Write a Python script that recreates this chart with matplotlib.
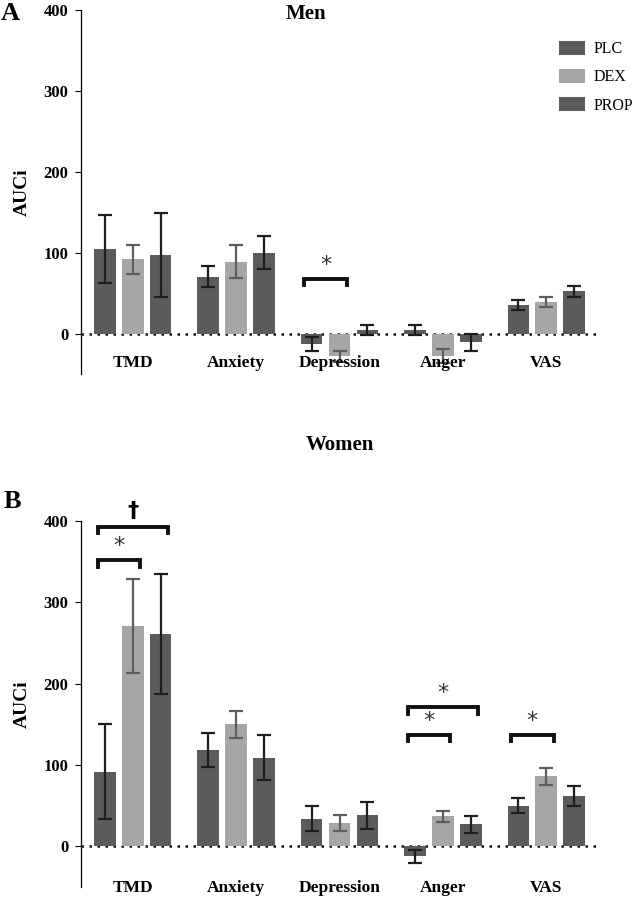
import numpy as np
import matplotlib.pyplot as plt

plt.rcParams['font.family'] = ['Liberation Serif', 'DejaVu Serif']

categories = ['TMD', 'Anxiety', 'Depression', 'Anger', 'VAS']
groups = ['PLC', 'DEX', 'PROP']

# Men
men_plc = [105, 70, -13, 4, 35]
men_plc_err = [42, 13, 9, 6, 6]
men_dex = [92, 89, -28, -28, 39]
men_dex_err = [18, 20, 7, 9, 6]
men_prop = [97, 100, 4, -11, 52]
men_prop_err = [52, 20, 6, 11, 7]

# Women
women_plc = [92, 118, 34, -12, 50]
women_plc_err = [58, 21, 15, 8, 9]
women_dex = [271, 150, 29, 37, 86]
women_dex_err = [58, 17, 10, 7, 10]
women_prop = [261, 109, 38, 27, 62]
women_prop_err = [74, 28, 17, 10, 12]

# significance brackets: (category, bar a, bar b, bracket height, label)
men_sig = [(2, 0, 1, 68, '*')]
women_sig = [(0, 0, 1, 352, '*'), (0, 0, 2, 393, '\u2020'),
             (3, 0, 1, 137, '*'), (3, 0, 2, 171, '*'),
             (4, 0, 1, 137, '*')]

dark = '#5b5b5b'
light = '#a6a6a6'
bar_colors = [dark, light, dark]
err_colors = ['#1e1e1e', '#5e5e5e', '#1e1e1e']
offset = 0.27
width = 0.21

fig = plt.figure(figsize=(6.33, 8.98), dpi=100)
ax1 = fig.add_axes([81/633, 1-374/898, 517/633, 364/898])
ax2 = fig.add_axes([81/633, 1-887/898, 517/633, 366/898])


def draw(ax, series, errs, sig, label_y):
    x = np.arange(len(categories))
    ax.axhline(0, color='#111111', lw=1.8, ls=(0, (1, 2.2)), zorder=1)
    for k in range(3):
        xs = x + (k - 1) * offset
        ax.bar(xs, series[k], width, color=bar_colors[k], zorder=2,
               label=groups[k])
        ax.errorbar(xs, series[k], yerr=errs[k], fmt='none',
                    ecolor=err_colors[k], elinewidth=1.6, capsize=5,
                    capthick=1.6, zorder=3)
    for c, a, b, h, lab in sig:
        x0 = c + (a - 1) * offset - 0.07
        x1 = c + (b - 1) * offset + 0.07
        d = 8
        ax.plot([x0, x0, x1, x1], [h - d, h, h, h - d], color='#111111',
                lw=2.8, solid_joinstyle='miter', zorder=4)
        if lab == '*':
            ax.text((x0 + x1) / 2, h + 5, lab, ha='center', va='bottom',
                    fontsize=16, family='DejaVu Sans', color='#333333')
        else:
            ax.text((x0 + x1) / 2, h + 7, lab, ha='center', va='bottom',
                    fontsize=16, fontweight='bold', family='DejaVu Sans')
    for i, cat in enumerate(categories):
        ax.text(i, label_y, cat, ha='center', va='center', fontsize=12.5,
                fontweight='bold', clip_on=False)
    ax.set_xlim(-0.5, 4.5)
    ax.set_ylim(-50, 400)
    ax.set_yticks([0, 100, 200, 300, 400])
    ax.tick_params(axis='y', length=4, width=0.8, labelsize=12, pad=5)
    for t in ax.get_yticklabels():
        t.set_fontweight('bold')
    ax.set_xticks([])
    for s in ['top', 'right', 'bottom']:
        ax.spines[s].set_visible(False)
    ax.spines['left'].set_linewidth(0.9)
    ax.set_ylabel('AUCi', fontsize=14, fontweight='bold', labelpad=9)


draw(ax1, [men_plc, men_dex, men_prop], [men_plc_err, men_dex_err, men_prop_err],
     men_sig, -36)
draw(ax2, [women_plc, women_dex, women_prop],
     [women_plc_err, women_dex_err, women_prop_err], women_sig, -51)

ax1.legend(loc='upper right', bbox_to_anchor=(1.096, 0.955), frameon=False,
           fontsize=11.5, handlelength=1.6, handleheight=1.0,
           labelspacing=0.72, handletextpad=0.55)

fig.text(306/633, 1-14/898, 'Men', ha='center', va='center', fontsize=15,
         fontweight='bold')
fig.text(340/633, 1-445/898, 'Women', ha='center', va='center', fontsize=15,
         fontweight='bold')
fig.text(10/633, 1-14/898, 'A', ha='center', va='center', fontsize=19,
         fontweight='bold')
fig.text(12/633, 1-502/898, 'B', ha='center', va='center', fontsize=19,
         fontweight='bold')

fig.savefig('out.png', dpi=100)
